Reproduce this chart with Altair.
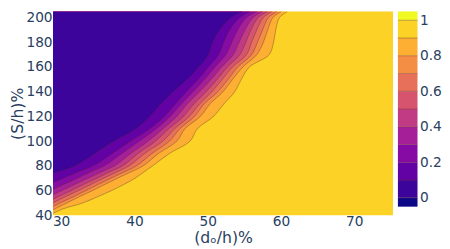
import altair as alt
import pandas as pd

# ---------------- data ----------------
X_MIN, X_MAX = 28.9, 75.3
Y_MIN, Y_MAX = 40.0, 205.0

LEVELS = [0.1, 0.2, 0.3, 0.4, 0.5, 0.6, 0.7, 0.8, 0.9]

# plasma-like band colours: below 0, 0-0.1, ..., 0.9-1, above 1
BAND_COLORS = ["#0d0887", "#3c049b", "#6202a5", "#850ba4", "#a52098", "#c03a84",
               "#d6546e", "#e7705a", "#f58e45", "#fcaf33", "#fbd225", "#f0f921"]
BAND_LO = [-0.05, 0.0, 0.1, 0.2, 0.3, 0.4, 0.5, 0.6, 0.7, 0.8, 0.9, 1.0]
BAND_HI = [0.0, 0.1, 0.2, 0.3, 0.4, 0.5, 0.6, 0.7, 0.8, 0.9, 1.0, 1.05]

CB_TICKS = [0, 0.2, 0.4, 0.6, 0.8, 1]
CB_LINES = [0.0, 0.1, 0.2, 0.3, 0.4, 0.5, 0.6, 0.7, 0.8, 0.9, 1.0]
X_TICKS = [30, 40, 50, 60, 70]
Y_TICKS = [40, 60, 80, 100, 120, 140, 160, 180, 200]

# contour lines: lower part (leaving the left edge) per level
LOW_Y = [
    [74],
    [66.5, 70, 75],
    [61, 65, 70, 75],
    [56.5, 60, 65, 70, 75],
    [53, 55, 60, 65, 70, 75],
    [50, 55, 60, 65, 70, 75],
    [47, 50, 55, 60, 65, 70, 75],
    [44.5, 45, 50, 55, 60, 65, 70, 75],
    [41.5, 45, 50, 55, 60, 65, 70, 75],
]
LOW_X = [
    [28.9],
    [28.9, 30.3, 32.3],
    [28.9, 30.4, 32.2, 34.0],
    [28.9, 30.1, 31.9, 33.7, 35.5],
    [28.9, 29.6, 31.4, 33.1, 34.9, 36.6],
    [28.9, 30.6, 32.4, 34.1, 35.8, 37.6],
    [28.9, 29.9, 31.7, 33.4, 35.1, 36.8, 38.6],
    [28.9, 29.1, 30.8, 32.5, 34.3, 36.0, 37.7, 39.5],
    [28.9, 30.2, 33.0, 35.0, 36.9, 38.6, 40.1, 41.3],
]
# upper part, common y values
Y_UPPER = [80, 90, 100, 110, 120, 130, 140, 150, 160, 170, 180, 190, 200, 205]
X_UPPER = [
    [31.9, 34.6, 37.2, 40.2, 42.1, 43.6, 45.3, 47.2, 48.8, 50.1, 50.7, 51.6, 53.2, 54.7],
    [34.4, 37.0, 39.5, 42.1, 44.1, 45.6, 47.1, 48.7, 50.1, 51.5, 52.2, 53.0, 54.4, 55.8],
    [35.9, 38.3, 40.7, 43.0, 44.9, 46.4, 48.0, 49.6, 51.0, 52.5, 53.3, 54.1, 55.3, 56.7],
    [37.3, 39.5, 41.9, 43.9, 45.8, 47.2, 48.9, 50.5, 51.9, 53.5, 54.3, 55.1, 56.2, 57.5],
    [38.4, 40.5, 42.9, 44.7, 46.7, 48.1, 49.8, 51.3, 52.7, 54.4, 55.2, 55.9, 56.9, 58.2],
    [39.3, 41.4, 43.9, 45.5, 47.5, 48.9, 50.6, 52.0, 53.4, 55.3, 56.0, 56.7, 57.6, 58.8],
    [40.3, 42.4, 44.8, 46.2, 48.2, 49.5, 51.4, 52.8, 54.1, 56.0, 56.8, 57.5, 58.3, 59.5],
    [41.2, 43.3, 45.8, 46.9, 49.0, 50.3, 52.1, 53.4, 54.8, 56.7, 57.6, 58.2, 58.9, 60.1],
    [42.5, 44.8, 47.6, 48.6, 50.8, 52.2, 53.7, 54.6, 55.7, 58.4, 59.0, 59.3, 59.8, 60.9],
]

# ---------------- tables ----------------
rows = []
for i, lev in enumerate(LEVELS):
    ys = LOW_Y[i] + Y_UPPER
    xs = LOW_X[i] + X_UPPER[i]
    for yv, xv in zip(ys, xs):
        rows.append({"level": lev, "y": yv, "x": xv, "x0": X_MIN})
df = pd.DataFrame(rows)

bg_df = pd.DataFrame({"bx": [X_MIN], "bx2": [X_MAX], "by": [Y_MIN], "by2": [Y_MAX]})
cb_df = pd.DataFrame({"lo": BAND_LO, "hi": BAND_HI, "color": BAND_COLORS})
cbl_df = pd.DataFrame({"v": CB_LINES})

FONT = "DejaVu Sans"
TXT = "#2a3f5f"

xscale = alt.Scale(domain=[X_MIN, X_MAX], nice=False, zero=False)
yscale = alt.Scale(domain=[Y_MIN, Y_MAX], nice=False, zero=False)
xaxis = alt.Axis(values=X_TICKS, title="(dₒ/h)%", labelPadding=0, titlePadding=1)
yaxis = alt.Axis(values=Y_TICKS, title="(S/h)%", labelPadding=1, titlePadding=0)

W, H = 347, 208

bg = alt.Chart(bg_df).mark_rect(color=BAND_COLORS[10]).encode(
    x=alt.X("bx:Q", scale=xscale, axis=xaxis),
    x2="bx2:Q",
    y=alt.Y("by:Q", scale=yscale, axis=yaxis),
    y2="by2:Q",
)

layers = [bg]
for i in reversed(range(len(LEVELS))):
    lev = LEVELS[i]
    sub = df[df["level"] == lev]
    layers.append(
        alt.Chart(sub).mark_area(orient="horizontal", clip=True, interpolate="catmull-rom",
                                 color=BAND_COLORS[i + 1]).encode(
            y=alt.Y("y:Q", scale=yscale, axis=yaxis),
            x=alt.X("x:Q", scale=xscale, axis=xaxis),
            x2="x0:Q",
        )
    )

lines = alt.Chart(df).mark_line(clip=True, interpolate="catmull-rom", color="#4a2a2a",
                                strokeWidth=0.7, opacity=0.5).encode(
    x=alt.X("x:Q", scale=xscale, axis=xaxis),
    y=alt.Y("y:Q", scale=yscale, axis=yaxis),
    detail="level:N",
    order=alt.Order("y:Q"),
)
layers.append(lines)

main = alt.layer(*layers).properties(width=W, height=H)

cb_scale = alt.Scale(domain=[-0.098, 1.05], nice=False, zero=False)
cb_axis = alt.Axis(orient="right", values=CB_TICKS, format="~g", title=None, labelPadding=2)
cb_rect = alt.Chart(cb_df).mark_rect().encode(
    y=alt.Y("lo:Q", scale=cb_scale, axis=cb_axis),
    y2="hi:Q",
    color=alt.Color("color:N", scale=None),
)
cb_lines = alt.Chart(cbl_df).mark_rule(color="#6a2a2a", strokeWidth=0.8, opacity=0.5).encode(
    y=alt.Y("v:Q", scale=cb_scale, axis=cb_axis),
)
colorbar = alt.layer(cb_rect, cb_lines).properties(width=20, height=H)

chart = alt.hconcat(main, colorbar, spacing=4).properties(
    padding={"left": 2, "top": 0, "right": 0, "bottom": 0}
).configure_view(stroke=None).configure_axis(
    labelFont=FONT, labelFontSize=14, labelColor=TXT,
    titleFont=FONT, titleFontSize=16, titleColor=TXT, titleFontWeight="normal",
    grid=False, domain=False, ticks=False, tickSize=0,
)

chart.save("out.html", embed_options={"renderer": "svg", "actions": False})
